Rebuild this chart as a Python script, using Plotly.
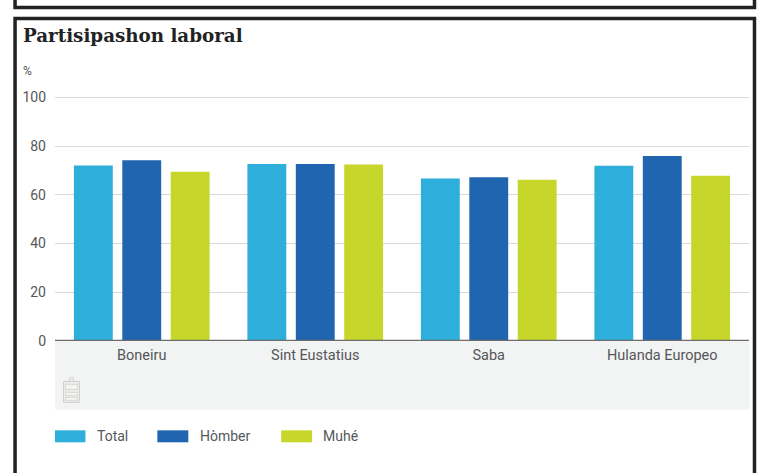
import plotly.graph_objects as go

categories = ["Boneiru", "Sint Eustatius", "Saba", "Hulanda Europeo"]
total = [72.1, 72.7, 66.7, 72.0]
homber = [74.2, 72.7, 67.2, 76.0]
muhe = [69.5, 72.5, 66.2, 67.8]
y_ticks = [0, 20, 40, 60, 80, 100]
series = [("Total", total, "#2eaedb"), ("Hòmber", homber, "#2065b0"), ("Muhé", muhe, "#c6d62b")]

W, H = 766, 473
Y_MAX = 101
L, R, B = 54.5, 749.5, 341.5
T = B - 2.44 * Y_MAX
FONT = "Roboto, sans-serif"
TXT = "#55575a"


def px(x):
    return (x - L) / (R - L)


def py(y):
    return (B - y) / (B - T)


fig = go.Figure()
for name, vals, col in series:
    fig.add_bar(name=name, x=categories, y=vals, marker=dict(color=col, line_width=0))

shapes = []


def rect(x0, y0, x1, y1, fill=None, line=None, lw=0, layer="above"):
    shapes.append(dict(type="rect", xref="paper", yref="paper", x0=px(x0), x1=px(x1), y0=py(y0), y1=py(y1),
                       fillcolor=fill or "rgba(0,0,0,0)", line=dict(color=line or "rgba(0,0,0,0)", width=lw), layer=layer))


# grey strip under the axis
rect(54.5, 341.5, 750, 410, fill="#f2f3f3", layer="below")
# frames
rect(14.5, -6, 755, 7.5, line="#222222", lw=3.5)
rect(14.5, 18.5, 755, 490, line="#222222", lw=3.5)
# small icon
rect(63, 382, 79, 403, fill="#ebebe9", line="#d0d0ce", lw=1)
rect(65, 385, 77, 390, fill="#f4f4f2", line="#d0d0ce", lw=0.7)
rect(65, 393, 77, 396, fill="#f4f4f2", line="#d0d0ce", lw=0.7)
rect(65, 398, 77, 401, fill="#f4f4f2", line="#d0d0ce", lw=0.7)
rect(69, 378, 73, 382, fill="#ebebe9", line="#d0d0ce", lw=0.7)

annotations = [
    dict(text="Partisipashon laboral", x=px(20.5), y=py(35), xanchor="left", yanchor="middle",
         font=dict(family="DejaVu Serif, serif", size=18.3, weight="bold", color="#222222")),
    dict(text="%", x=px(20), y=py(71), xanchor="left", yanchor="middle",
         font=dict(family=FONT, size=12, color=TXT)),
]
legend_x = [(54.5, 85, 95), (157, 188, 198), (281, 312, 321)]
for (name, _, col), (x0, x1, tx) in zip(series, legend_x):
    rect(x0, 431, x1, 443, fill=col)
    annotations.append(dict(text=name, x=px(tx), y=py(437), xanchor="left", yanchor="middle",
                            font=dict(family=FONT, size=14, color=TXT)))
for a in annotations:
    a.update(xref="paper", yref="paper", showarrow=False)

fig.update_layout(
    width=W, height=H, autosize=False,
    margin=dict(l=L, r=W - R, t=T, b=H - B, pad=0),
    paper_bgcolor="white", plot_bgcolor="rgba(0,0,0,0)",
    barmode="group", bargap=0.163, bargroupgap=0.197,
    showlegend=False, shapes=shapes, annotations=annotations,
    font=dict(family=FONT, size=14, color=TXT),
    xaxis=dict(showgrid=False, ticks="", showline=False, zeroline=False, automargin=False,
               ticklabelstandoff=3,
               tickfont=dict(family=FONT, size=14.5, color=TXT)),
    yaxis=dict(range=[0, Y_MAX], tickvals=y_ticks, showgrid=True, gridcolor="#dcd8d4", gridwidth=1.3,
               zeroline=False, showline=False, ticks="", ticklen=0, automargin=False,
               ticklabelstandoff=8,
               tickfont=dict(family=FONT, size=14, color=TXT)),
)
fig.add_hline(y=0, line=dict(color="#6d6d6d", width=2.5), layer="above")
fig.write_html("out.html", post_script="document.body.style.margin='0';", config={"displayModeBar": False})
